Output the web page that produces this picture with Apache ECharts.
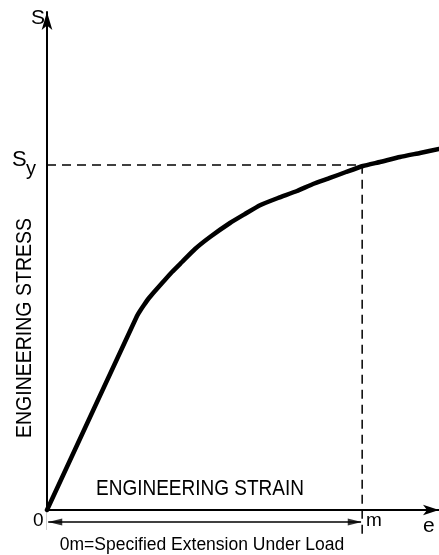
<!DOCTYPE html>
<html>
<head>
<meta charset="utf-8">
<script src="https://cdn.jsdelivr.net/npm/echarts@6/dist/echarts.min.js"></script>
<style>
  html, body { margin: 0; padding: 0; background: #fff; }
  #chart { width: 439px; height: 555px; }
</style>
</head>
<body>
<div id="chart"></div>
<script>
// stress-strain curve (arbitrary units, 0..100)
var strain = [0, 22.96, 23.72, 24.74, 26.02, 27.55, 29.59, 31.89, 34.44, 37.76, 41.58, 46.68, 50.51, 54.34, 58.93, 63.78, 67.86, 72.19, 76.28, 80.61, 84.95, 90.05, 95.15, 100];
var stress = [0, 38.96, 39.96, 41.16, 42.57, 43.98, 45.78, 47.79, 49.80, 52.41, 54.82, 57.63, 59.44, 61.20, 62.65, 64.06, 65.46, 66.67, 67.87, 69.08, 69.88, 70.88, 71.69, 72.49];
var yieldStrain = 80.4;   // m
var yieldStress = 69.3;   // Sy
var dimLevel = -2.4;      // "0m" dimension line, below the strain axis
var dashBottom = -5.5;

var font = '"Liberation Sans", Arial, sans-serif';

var chart = echarts.init(document.getElementById('chart'));

var curve = strain.map(function (x, i) { return [x, stress[i]]; });

chart.setOption({
  animation: false,
  grid: { left: 47, right: 0, top: 12, bottom: 45 },
  xAxis: {
    type: 'value', min: 0, max: 100,
    axisLine: { onZero: false, symbol: ['none', 'arrow'], symbolSize: [8, 16],
      lineStyle: { color: '#000', width: 2 } },
    axisTick: { show: false }, axisLabel: { show: false }, splitLine: { show: false }
  },
  yAxis: {
    type: 'value', min: 0, max: 100,
    axisLine: { onZero: false, symbol: ['none', 'arrow'], symbolSize: [8, 18],
      lineStyle: { color: '#000', width: 2 } },
    axisTick: { show: false }, axisLabel: { show: false }, splitLine: { show: false }
  },
  series: [
    {
      type: 'line', data: curve, smooth: 0.15, symbol: 'none', clip: false,
      lineStyle: { color: '#000', width: 4.5, join: 'round', cap: 'round' }, z: 5
    },
    {
      // dashed guide lines to the yield point
      type: 'line', symbol: 'none', clip: false,
      data: [[0, yieldStress], [yieldStrain, yieldStress], [yieldStrain, dashBottom]],
      lineStyle: { color: '#000', width: 1.5, type: [9, 6] }
    },
    {
      // dimension line 0 -> m
      type: 'line', symbol: 'none', clip: false,
      data: [[0.3, dimLevel], [yieldStrain - 0.3, dimLevel]],
      lineStyle: { color: '#000', width: 1.5 }
    },
    {
      // its arrowheads
      type: 'scatter', clip: false, symbolSize: [7, 14],
      itemStyle: { color: '#000' },
      data: [
        { value: [2.1, dimLevel], symbol: 'triangle', symbolRotate: 90 },
        { value: [yieldStrain - 1.9, dimLevel], symbol: 'triangle', symbolRotate: -90 }
      ]
    },
    {
      type: 'line', symbol: 'none', clip: false,
      data: [[-0.4, -0.2], [-0.4, -4.0]],
      lineStyle: { color: '#000', width: 1.5 }
    }
  ],
  graphic: [
    { type: 'text', left: 31, top: 8, style: { text: 'S', font: '21px ' + font, fill: '#000' } },
    { type: 'text', left: 12, top: 149, style: { text: 'S', font: '22px ' + font, fill: '#000' } },
    { type: 'text', left: 26, top: 159, style: { text: 'y', font: '20px ' + font, fill: '#000' } },
    { type: 'text', x: 25, y: 328, rotation: Math.PI / 2, scaleY: 1.1,
      style: { text: 'ENGINEERING STRESS', font: '19.5px ' + font, fill: '#000',
        align: 'center', verticalAlign: 'middle' } },
    { type: 'text', x: 200, y: 489, scaleY: 1.12,
      style: { text: 'ENGINEERING STRAIN', font: '19px ' + font, fill: '#000',
        align: 'center', verticalAlign: 'middle' } },
    { type: 'text', left: 33, top: 511, style: { text: '0', font: '19px ' + font, fill: '#000' } },
    { type: 'text', left: 366, top: 511, style: { text: 'm', font: '19px ' + font, fill: '#000' } },
    { type: 'text', left: 423, top: 516, style: { text: 'e', font: '21px ' + font, fill: '#000' } },
    { type: 'text', x: 202, y: 545,
      style: { text: '0m=Specified Extension Under Load', font: '17.5px ' + font, fill: '#000',
        align: 'center', verticalAlign: 'middle' } }
  ]
});
</script>
</body>
</html>
